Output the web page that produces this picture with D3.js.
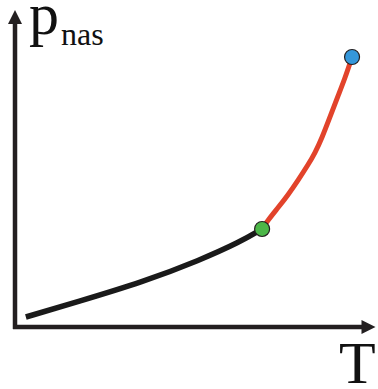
<!DOCTYPE html>
<html>
<head>
<meta charset="utf-8">
<script src="https://cdn.jsdelivr.net/npm/d3@7"></script>
<style>
  html, body { margin: 0; padding: 0; background: #fff; }
  svg { display: block; }
</style>
</head>
<body>
<svg id="chart" width="378" height="389"></svg>
<script>
// Saturated vapour pressure vs temperature (schematic units)
const lowT  = [3.1, 17.7, 36.6, 52.9, 64.3, 70.6];
const lowP  = [3.7,  9.3, 16.7, 24.8, 31.5, 36.3];
const highT = [70.6, 72.3, 75.1, 78.0, 80.9, 83.7, 85.7, 87.7, 90.0, 92.3, 94.3, 96.3];
const highP = [36.3, 39.6, 44.1, 48.9, 54.4, 60.0, 64.4, 70.0, 77.8, 85.6, 92.2, 100];
const markerT = [70.6, 96.3];
const markerP = [36.3, 100];
const markerColors = ["#4cb748", "#3597da"];
const axisMaxT = 103;
const axisMaxP = 117.4;

const serif = "Liberation Serif, Times New Roman, Times, serif";

const svg = d3.select("#chart");
const x = d3.scaleLinear().domain([0, 100]).range([15, 365]);
const y = d3.scaleLinear().domain([0, 100]).range([327, 57]);

const axisColor = "#231f20";

// axes with arrowheads
const ax0 = x(0), ay0 = y(0);
svg.append("line")
  .attr("x1", ax0).attr("y1", ay0 + 2)
  .attr("x2", ax0).attr("y2", y(axisMaxP) + 12)
  .attr("stroke", axisColor).attr("stroke-width", 4.5);
svg.append("line")
  .attr("x1", ax0 - 2).attr("y1", ay0)
  .attr("x2", x(axisMaxT) - 12).attr("y2", ay0)
  .attr("stroke", axisColor).attr("stroke-width", 4.5);

const tipY = y(axisMaxP), tipX = x(axisMaxT);
svg.append("path")
  .attr("d", `M${ax0},${tipY} L${ax0 - 7},${tipY + 14} L${ax0 + 7},${tipY + 14} Z`)
  .attr("fill", axisColor);
svg.append("path")
  .attr("d", `M${tipX},${ay0} L${tipX - 14},${ay0 - 7} L${tipX - 14},${ay0 + 7} Z`)
  .attr("fill", axisColor);

// curves
const line = d3.line()
  .x(d => x(d[0])).y(d => y(d[1]))
  .curve(d3.curveBasis);

svg.append("path")
  .datum(lowT.map((t, i) => [t, lowP[i]]))
  .attr("d", line)
  .attr("fill", "none").attr("stroke", "#1a1a1a")
  .attr("stroke-width", 5.5).attr("stroke-linecap", "butt");

svg.append("path")
  .datum(highT.map((t, i) => [t, highP[i]]))
  .attr("d", line)
  .attr("fill", "none").attr("stroke", "#e2432b")
  .attr("stroke-width", 5).attr("stroke-linecap", "butt");

// end-point markers
svg.selectAll("circle.mark")
  .data(markerT.map((t, i) => ({ t, p: markerP[i], c: markerColors[i] })))
  .join("circle")
  .attr("class", "mark")
  .attr("cx", d => x(d.t)).attr("cy", d => y(d.p))
  .attr("r", 7.5)
  .attr("fill", d => d.c)
  .attr("stroke", "#231f20").attr("stroke-width", 1.2);

// axis labels
svg.append("text")
  .attr("x", 29).attr("y", 34)
  .attr("font-family", serif)
  .attr("font-size", 60)
  .attr("fill", "#111")
  .text("p");
svg.append("text")
  .attr("x", 61).attr("y", 45)
  .attr("font-family", serif)
  .attr("font-size", 32)
  .attr("fill", "#111")
  .text("nas");

svg.append("text")
  .attr("x", 339).attr("y", 383)
  .attr("font-family", serif)
  .attr("font-size", 60)
  .attr("fill", "#111")
  .text("T");
</script>
</body>
</html>
